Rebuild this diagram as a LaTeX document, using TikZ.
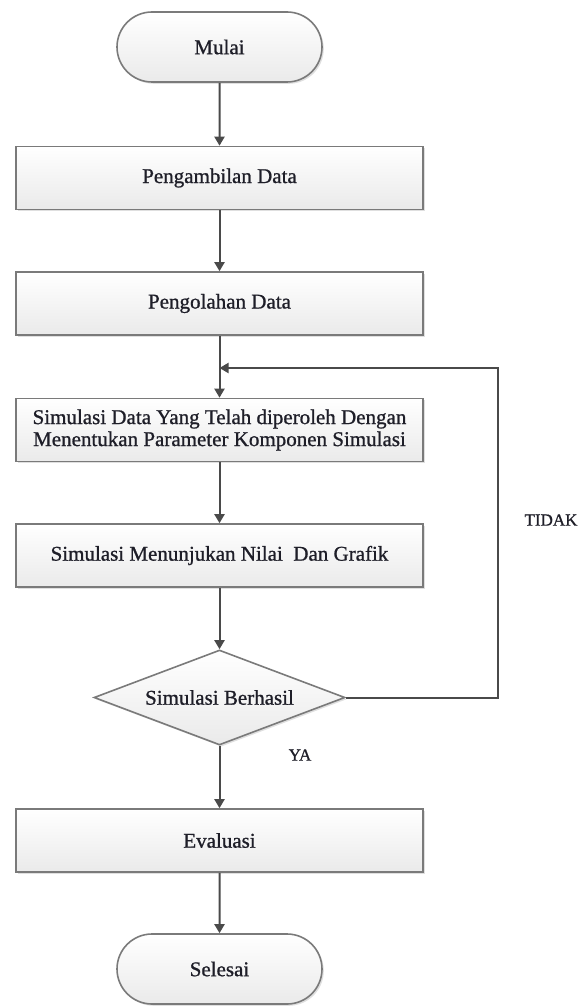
\documentclass[tikz,border=0pt]{standalone}
\usepackage{fontspec}
\setmainfont{Liberation Serif}
\newfontfamily\heavyserif{Liberation Serif}[FakeBold=0.9]
\usetikzlibrary{shapes.misc,shapes.geometric,arrows.meta,shadows}
\definecolor{txt}{HTML}{1E1E28}
\definecolor{edge}{HTML}{7A7A7A}
\definecolor{conn}{HTML}{4A4A4A}
\definecolor{fillbot}{HTML}{EAEAEA}
\tikzset{
  base/.style={draw=edge, line width=1.6pt, top color=white, bottom color=fillbot,
    text=txt, font=\heavyserif\fontsize{21}{22}\selectfont, align=center, inner sep=0pt,
    drop shadow={opacity=0.25, shadow xshift=1.8pt, shadow yshift=-1.8pt}},
  term/.style={base, rounded rectangle, minimum width=205pt, minimum height=70pt},
  procbox/.style={base, rectangle, minimum width=407pt, minimum height=63pt},
  decide/.style={base, diamond, minimum width=251pt, minimum height=95pt, aspect=2.64},
  conarrow/.style={draw=conn, line width=2pt, -{Triangle[width=10pt,length=9pt]}},
  lbl/.style={text=txt, font=\heavyserif\fontsize{17}{20}\selectfont, inner sep=0pt}
}
\begin{document}
\begin{tikzpicture}[x=1pt,y=-1pt]
\useasboundingbox (0,0) rectangle (583,1006);
\node[term] (mulai) at (219.5,47) {Mulai};
\node[procbox] (ambil) at (219.5,178) {Pengambilan Data};
\node[procbox] (olah) at (219.5,303.5) {Pengolahan Data};
\node[procbox] (sim) at (219.5,430) {Simulasi Data Yang Telah diperoleh Dengan\\Menentukan Parameter Komponen Simulasi};
\node[procbox] (nilai) at (219.5,555.5) {Simulasi Menunjukan Nilai\ \ Dan Grafik};
\node[decide] (dia) at (219.5,697.5) {Simulasi Berhasil};
\node[procbox] (eval) at (219.5,840.5) {Evaluasi};
\node[term] (selesai) at (219.5,969) {Selesai};
\node[lbl] (ya) at (300,755) {YA};
\node[lbl] (tidak) at (551,520) {TIDAK};
\coordinate (lp) at (498,368);
\coordinate (lin) at (219.5,368);
\draw[conarrow] (mulai) -- (ambil);
\draw[conarrow] (ambil) -- (olah);
\draw[conarrow] (olah) -- (sim);
\draw[conarrow] (sim) -- (nilai);
\draw[conarrow] (nilai) -- (dia);
\draw[conarrow] (dia) -- (eval);
\draw[conarrow] (eval) -- (selesai);
\draw[conarrow] (dia.east) -| (lp) -- (lin);
\end{tikzpicture}
\end{document}
